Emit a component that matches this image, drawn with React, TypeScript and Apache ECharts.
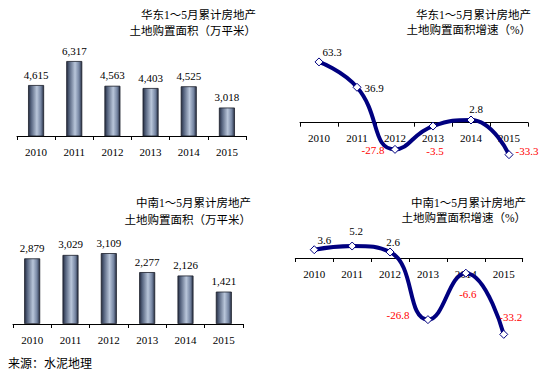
import React, { useEffect, useRef } from 'react';
import * as echarts from 'echarts';

const years = ['2010', '2011', '2012', '2013', '2014', '2015'];
const eastArea = [4615, 6317, 4563, 4403, 4525, 3018];
const eastGrowth = [63.3, 36.9, -27.8, -3.5, 2.8, -33.3];
const centralArea = [2879, 3029, 3109, 2277, 2126, 1421];
const centralGrowth = [3.6, 5.2, 2.6, -26.8, -6.6, -33.2];

const titleEastArea = '华东1～5月累计房地产\n土地购置面积（万平米）';
const titleEastGrowth = '华东1～5月累计房地产\n土地购置面积增速（%）';
const titleCentralArea = '中南1～5月累计房地产\n土地购置面积（万平米）';
const titleCentralGrowth = '中南1～5月累计房地产\n土地购置面积增速（%）';
const sourceText = '来源：水泥地理';

// label placement (style, not data)
const eastOffsets = [[13, -10], [17, 1], [-22, 1], [2, 25], [5, -11], [18, -4]];
const centralOffsets = [[10, -10], [4, -15], [3, -10], [-30, -5], [2, 21], [7, -17]];

const SERIF = '"Liberation Serif", "Times New Roman", serif';
const CJK = '"Liberation Serif", "Noto Sans CJK SC", sans-serif';
const NAVY = '#000080';

const barColor = new echarts.graphic.LinearGradient(0, 0, 1, 0, [
  { offset: 0, color: '#262e42' },
  { offset: 0.18, color: '#56647f' },
  { offset: 0.55, color: '#b9c6da' },
  { offset: 0.82, color: '#7585a2' },
  { offset: 1, color: '#262e42' },
]);

function xAxisCfg(gridIndex: number) {
  return {
    type: 'category' as const,
    gridIndex,
    data: years,
    boundaryGap: true,
    axisLine: { show: true, onZero: false, lineStyle: { color: '#000', width: 1 } },
    axisTick: { show: true, length: 4, lineStyle: { color: '#000' } },
    axisLabel: { color: '#000', fontFamily: SERIF, fontSize: 11, margin: 10 },
    splitLine: { show: false },
  };
}

function yAxisCfg(gridIndex: number, min: number, max: number) {
  return {
    type: 'value' as const,
    gridIndex,
    min,
    max,
    show: false,
    splitLine: { show: false },
  };
}

function barSeries(idx: number, values: number[]) {
  return {
    type: 'bar' as const,
    xAxisIndex: idx,
    yAxisIndex: idx,
    data: values,
    barWidth: 16,
    itemStyle: { color: barColor, borderColor: '#1a1e2a', borderWidth: 0.8 },
    label: {
      show: true,
      position: 'top' as const,
      distance: 5,
      color: '#000',
      fontFamily: SERIF,
      fontSize: 11,
      formatter: (p: any) => Number(p.value).toLocaleString('en-US'),
    },
  };
}

function lineSeries(idx: number, values: number[], offsets: number[][]) {
  return {
    type: 'line' as const,
    xAxisIndex: idx,
    yAxisIndex: idx,
    smooth: 0.5,
    clip: false,
    symbol: 'diamond',
    symbolSize: 8,
    lineStyle: { color: NAVY, width: 4 },
    itemStyle: { color: '#fff', borderColor: NAVY, borderWidth: 1 },
    data: values.map((v, i) => ({
      value: v,
      label: {
        show: true,
        position: 'inside',
        offset: offsets[i],
        color: v < 0 ? '#ff0000' : '#000',
        fontFamily: SERIF,
        fontSize: 11,
      },
    })),
  };
}

function titleText(x: number, y: number, text: string, lineHeight: number) {
  return {
    type: 'text' as const,
    x,
    y,
    style: {
      text,
      align: 'right' as const,
      verticalAlign: 'top' as const,
      fontFamily: CJK,
      fontSize: 11.5,
      lineHeight,
      fill: '#000',
    },
  };
}

export default function App() {
  const ref = useRef<HTMLDivElement>(null);
  useEffect(() => {
    if (!ref.current) return;
    const chart = echarts.init(ref.current, undefined, { renderer: 'svg' });
    chart.setOption({
      animation: false,
      backgroundColor: '#fff',
      grid: [
        { left: 17, top: 51.4, width: 229, height: 84.6 },
        { left: 300, top: 55.5, width: 228, height: 67.2 },
        { left: 13, top: 232.8, width: 230, height: 91.2 },
        { left: 295.3, top: 235, width: 227.4, height: 23 },
      ],
      xAxis: [xAxisCfg(0), xAxisCfg(1), xAxisCfg(2), xAxisCfg(3)],
      yAxis: [
        yAxisCfg(0, 1000, 7000),
        yAxisCfg(1, 0, 70),
        yAxisCfg(2, 0, 4000),
        yAxisCfg(3, 0, 10),
      ],
      series: [
        barSeries(0, eastArea),
        lineSeries(1, eastGrowth, eastOffsets),
        barSeries(2, centralArea),
        lineSeries(3, centralGrowth, centralOffsets),
      ],
      graphic: [
        titleText(256, 7, titleEastArea, 16),
        titleText(531, 8, titleEastGrowth, 14.5),
        titleText(251, 195, titleCentralArea, 16.5),
        titleText(526, 195.5, titleCentralGrowth, 15),
        {
          type: 'text',
          x: 8,
          y: 356,
          style: { text: sourceText, fontFamily: '"Noto Sans CJK SC", sans-serif', fontSize: 12, fill: '#000' },
        },
      ],
    });
    return () => chart.dispose();
  }, []);
  return (
    <div
      ref={ref}
      style={{ position: 'absolute', left: 0, top: 0, width: 545, height: 376 }}
    />
  );
}
